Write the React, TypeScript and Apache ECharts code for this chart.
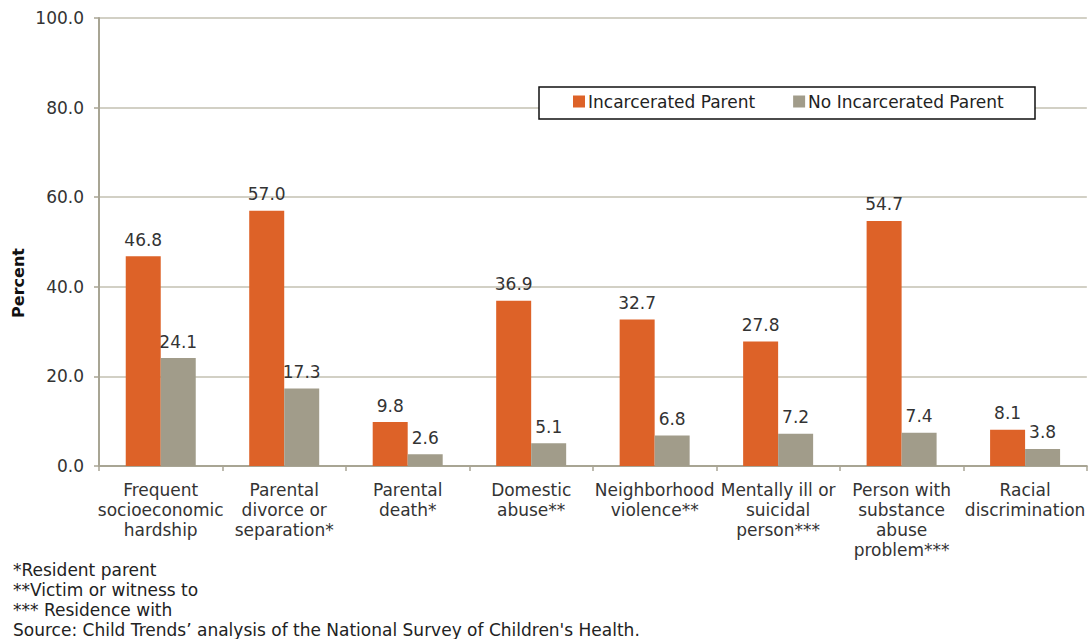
import React, { useEffect, useRef } from "react";
import * as echarts from "echarts";

const categories = [
  "Frequent\nsocioeconomic\nhardship",
  "Parental\ndivorce or\nseparation*",
  "Parental\ndeath*",
  "Domestic\nabuse**",
  "Neighborhood\nviolence**",
  "Mentally ill or\nsuicidal\nperson***",
  "Person with\nsubstance\nabuse\nproblem***",
  "Racial\ndiscrimination",
];
const incarcerated = [46.8, 57.0, 9.8, 36.9, 32.7, 27.8, 54.7, 8.1];
const notIncarcerated = [24.1, 17.3, 2.6, 5.1, 6.8, 7.2, 7.4, 3.8];
const seriesNames = ["Incarcerated Parent", "No Incarcerated Parent"];
const footnotes = [
  "*Resident parent",
  "**Victim or witness to",
  "*** Residence with",
  "Source: Child Trends\u2019 analysis of the National Survey of Children's Health.",
];

const FONT = "DejaVu Sans, Verdana, sans-serif";

export default function App() {
  const ref = useRef<HTMLDivElement>(null);
  useEffect(() => {
    const chart = echarts.init(ref.current!, null, { renderer: "svg" });
    const labelCfg = {
      show: true,
      position: "top",
      distance: 8,
      color: "#333",
      fontSize: 17,
      fontFamily: FONT,
      formatter: (p: any) => Number(p.value).toFixed(1),
    };
    chart.setOption({
      animation: false,
      backgroundColor: "#fff",
      textStyle: { fontFamily: FONT },
      grid: { left: 99, right: -4, top: 18, bottom: 173, containLabel: false },
      legend: {
        data: seriesNames,
        left: 573,
        top: 93,
        itemWidth: 12,
        itemHeight: 12,
        itemGap: 38,
        z: 10,
        padding: 0,
        textStyle: { fontSize: 17, color: "#222", fontFamily: FONT, padding: [0, 0, 0, -2] },
        icon: "rect",
      },
      xAxis: {
        type: "category",
        data: categories,
        axisLine: { lineStyle: { color: "#a8a594", width: 2 } },
        axisTick: { show: true, length: 5, lineStyle: { color: "#a8a594", width: 1.5 } },
        axisLabel: {
          interval: 0,
          color: "#333",
          fontSize: 17,
          lineHeight: 20,
          margin: 14,
          fontFamily: FONT,
        },
      },
      yAxis: {
        type: "value",
        min: 0,
        max: 100,
        interval: 20,
        axisLine: { show: true, lineStyle: { color: "#a8a594", width: 2 } },
        axisTick: { show: true, length: 5, lineStyle: { color: "#a8a594", width: 1.5 } },
        splitLine: { lineStyle: { color: "#c3c0b2", width: 1.5 } },
        axisLabel: {
          color: "#333",
          fontSize: 17,
          margin: 15,
          fontFamily: FONT,
          formatter: (v: number) => v.toFixed(1),
        },
      },
      graphic: [
        {
          type: "rect",
          z: 5,
          shape: { x: 539, y: 87, width: 496, height: 32 },
          style: { fill: "#fff", stroke: "#111", lineWidth: 1.5 },
        },
        {
          type: "text",
          x: 18,
          y: 283,
          rotation: Math.PI / 2,
          style: {
            text: "Percent",
            fill: "#111",
            font: `bold 16px ${FONT}`,
            textAlign: "center",
            textVerticalAlign: "middle",
          },
        },
        ...footnotes.map((t, i) => ({
          type: "text",
          x: 13,
          y: 570 + i * 20,
          style: {
            text: t,
            fill: "#222",
            font: `17px ${FONT}`,
            textAlign: "left",
            textVerticalAlign: "middle",
          },
        })),
      ],
      series: [
        {
          name: seriesNames[0],
          type: "bar",
          data: incarcerated,
          barWidth: 35,
          barGap: "0%",
          itemStyle: { color: "#dd6228" },
          label: labelCfg,
        },
        {
          name: seriesNames[1],
          type: "bar",
          data: notIncarcerated,
          barWidth: 35,
          barGap: "0%",
          itemStyle: { color: "#a19c8a" },
          label: labelCfg,
        },
      ],
    });
    return () => chart.dispose();
  }, []);
  return (
    <div
      ref={ref}
      style={{ position: "absolute", left: 0, top: 0, width: 1088, height: 639 }}
    />
  );
}
